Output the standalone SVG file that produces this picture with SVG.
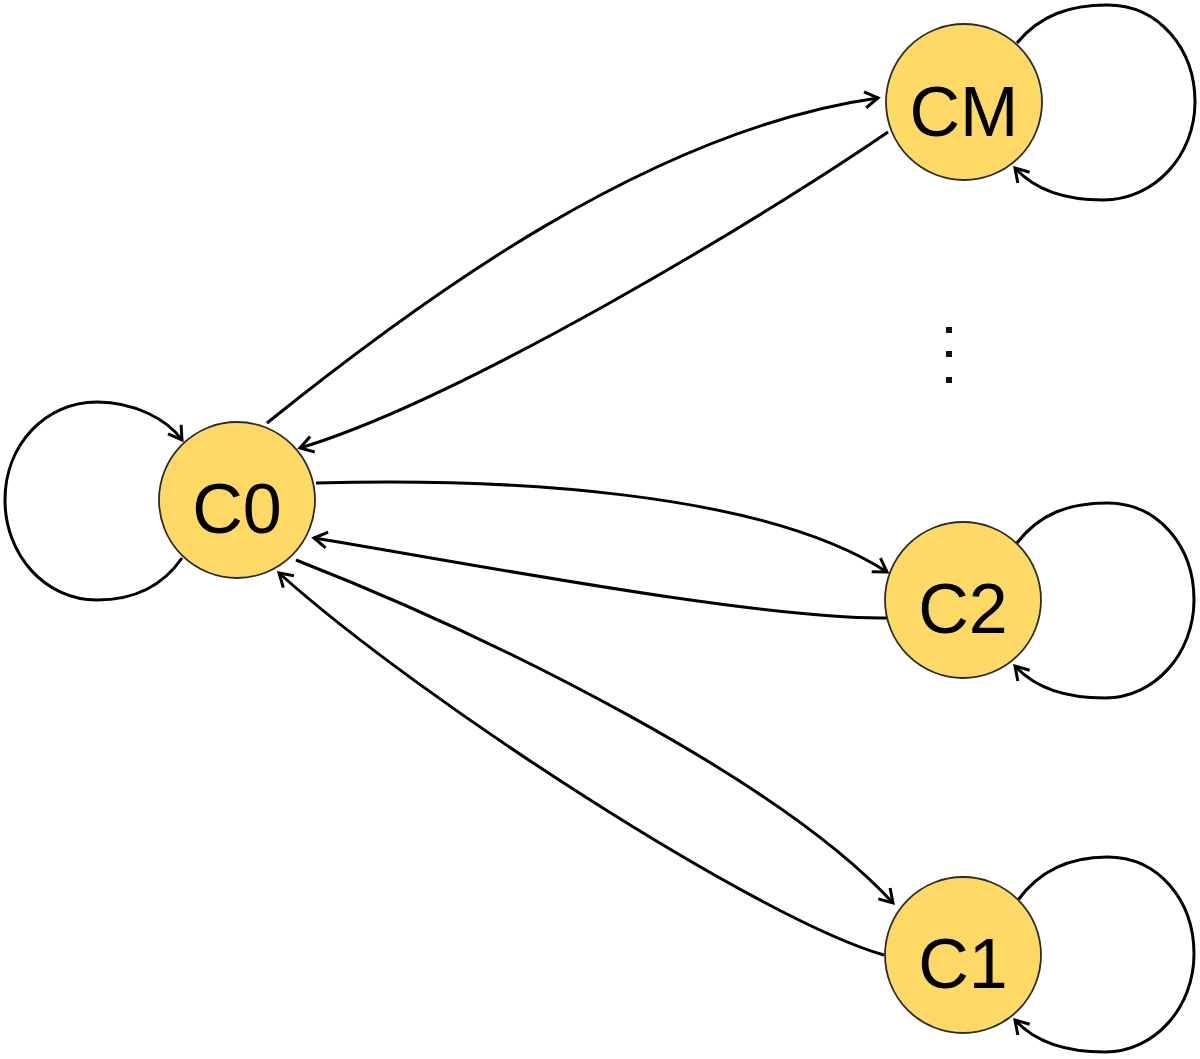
<svg xmlns="http://www.w3.org/2000/svg" width="1200" height="1059" viewBox="0 0 1200 1059">
<style>
.edge{fill:none;stroke:#000;stroke-width:3;marker-end:url(#arr)}
.node circle{fill:#FFD966;stroke:#2b2b2b;stroke-width:1.8}
.node text{font-family:"Liberation Sans",Arial,sans-serif;font-size:70px;fill:#000;text-anchor:middle}
</style>
<defs>
<marker id="arr" markerUnits="userSpaceOnUse" markerWidth="24" markerHeight="24" viewBox="0 0 24 24" refX="17" refY="12" orient="auto">
<path d="M4,4 L17,12 L4,20" fill="none" stroke="#000" stroke-width="3" stroke-linejoin="miter"/>
</marker>
</defs>
<rect width="1200" height="1059" fill="#fff"/>
<g id="connectors">
<path class="edge" d="M182,558 C160,590 130,600 97,600 C45,600 5,555 5,500 C5,445 45,402 97,402 C135,402 168,420 182,440"/>
<path class="edge" d="M1017,43 C1040,15 1070,5 1107,5 C1160,5 1195,50 1195,102 C1195,155 1155,200 1103,200 C1065,200 1035,190 1015,168"/>
<path class="edge" d="M1017,543 C1040,513 1070,503 1107,503 C1160,503 1194,548 1194,600 C1194,653 1155,698 1105,698 C1065,698 1035,688 1015,666"/>
<path class="edge" d="M1018,900 C1040,870 1070,857 1107,857 C1160,857 1194,902 1194,954 C1194,1007 1155,1052 1105,1052 C1065,1052 1035,1042 1015,1020"/>
<path class="edge" d="M267,423 C420,300 650,130 878,98"/>
<path class="edge" d="M888,132 C760,220 460,400 300,448"/>
<path class="edge" d="M316,483 C500,478 760,490 887,572"/>
<path class="edge" d="M887,618 C760,620 450,560 314,538"/>
<path class="edge" d="M296,560 C500,640 780,780 893,903"/>
<path class="edge" d="M884,955 C760,920 420,700 279,573"/>
</g>
<g id="node-C0" class="node"><circle cx="237" cy="500" r="78"/><text x="237" y="533">C0</text></g>
<g id="node-CM" class="node"><circle cx="964" cy="102" r="78"/><text x="964" y="136">CM</text></g>
<g id="node-C2" class="node"><circle cx="963" cy="600" r="78"/><text x="963" y="633">C2</text></g>
<g id="node-C1" class="node"><circle cx="963" cy="955" r="78"/><text x="963" y="988">C1</text></g>
<g id="ellipsis" fill="#111">
<rect x="946" y="327" width="6" height="6"/>
<rect x="946" y="351" width="6" height="6"/>
<rect x="946" y="377" width="6" height="6"/>
</g>
</svg>
